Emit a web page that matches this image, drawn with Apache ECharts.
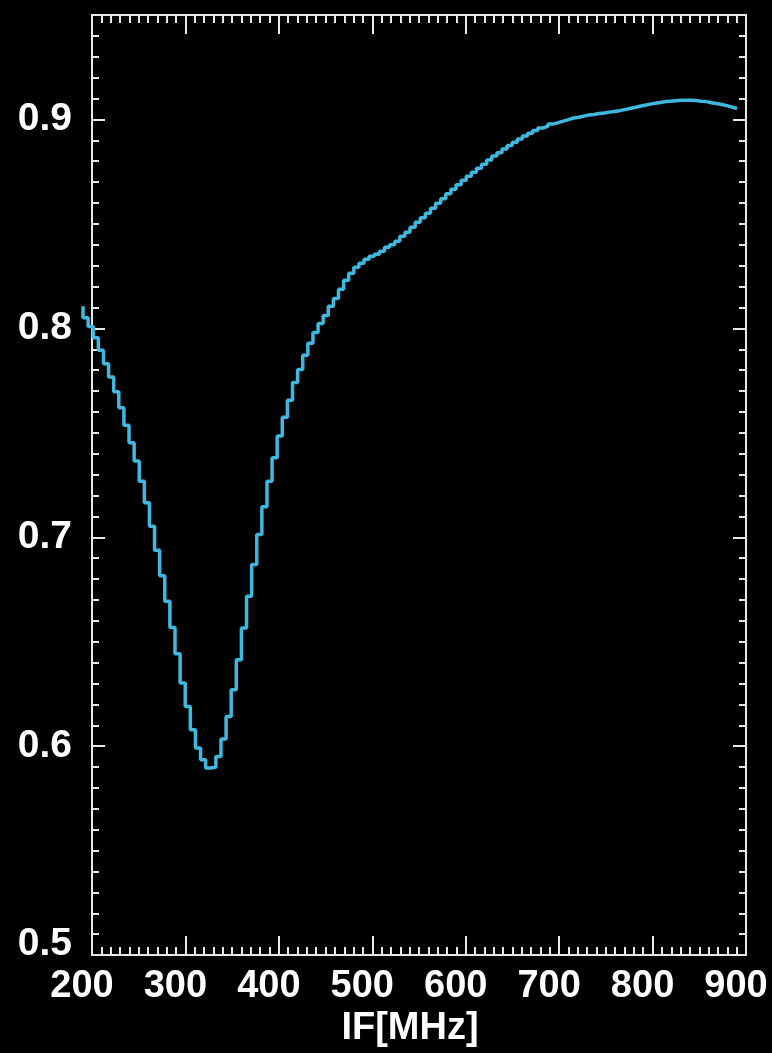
<!DOCTYPE html>
<html>
<head>
<meta charset="utf-8">
<title>IF response</title>
<script src="https://cdn.jsdelivr.net/npm/echarts@6/dist/echarts.min.js"></script>
<style>
  html, body { margin: 0; padding: 0; background: #000; }
  #chart { width: 772px; height: 1053px; }
</style>
</head>
<body>
<div id="chart"></div>
<script>
// Channel frequencies (MHz) of the stepped response, one per channel edge
const freqMHz = [
  190.40, 195.87, 201.34, 206.81, 212.28, 217.74, 223.21, 228.68, 234.15, 239.62,
  245.09, 250.56, 256.03, 261.49, 266.96, 272.43, 277.90, 283.37, 288.84, 294.31,
  299.78, 305.24, 310.71, 316.18, 321.65, 327.12, 332.59, 338.06, 343.53, 348.99,
  354.46, 359.93, 365.40, 370.87, 376.34, 381.81, 387.28, 392.74, 398.21, 403.68,
  409.15, 414.62, 420.09, 425.56, 431.03, 436.49, 441.96, 447.43, 452.90, 458.37,
  463.84, 469.31, 474.78, 480.24, 485.71, 491.18, 496.65, 502.12, 507.59, 513.06,
  518.53, 523.99, 529.46, 534.93, 540.40, 545.87, 551.34, 556.81, 562.28, 567.74,
  573.21, 578.68, 584.15, 589.62, 595.09, 600.56, 606.03, 611.49, 616.96, 622.43,
  627.90, 633.37, 638.84, 644.31, 649.78, 655.24, 660.71, 666.18, 671.65, 677.12,
  682.59, 688.06, 693.53, 698.99, 704.46, 709.93, 715.40, 720.87, 726.34, 731.81,
  737.28, 742.74, 748.21, 753.68, 759.15, 764.62, 770.09, 775.56, 781.03, 786.49,
  791.96, 797.43, 802.90, 808.37, 813.84, 819.31, 824.78, 830.24, 835.71, 841.18,
  846.65, 852.12, 857.59, 863.06, 868.53, 873.99, 879.46, 884.93, 890.40
];

// Response per channel
const response = [
  0.8114, 0.8060, 0.8018, 0.7965, 0.7905, 0.7841, 0.7778, 0.7708, 0.7632, 0.7549,
  0.7465, 0.7378, 0.7282, 0.7180, 0.7068, 0.6954, 0.6833, 0.6711, 0.6587, 0.6462,
  0.6322, 0.6211, 0.6100, 0.6013, 0.5957, 0.5918, 0.5922, 0.5973, 0.6056, 0.6163,
  0.6290, 0.6433, 0.6584, 0.6735, 0.6886, 0.7029, 0.7161, 0.7282, 0.7394, 0.7497,
  0.7586, 0.7667, 0.7752, 0.7814, 0.7881, 0.7938, 0.7990, 0.8033, 0.8071, 0.8114,
  0.8152, 0.8195, 0.8238, 0.8271, 0.8300, 0.8319, 0.8338, 0.8352, 0.8362, 0.8376,
  0.8395, 0.8407, 0.8424, 0.8448, 0.8467, 0.8490, 0.8514, 0.8536, 0.8557, 0.8581,
  0.8605, 0.8626, 0.8650, 0.8671, 0.8693, 0.8714, 0.8733, 0.8752, 0.8771, 0.8790,
  0.8810, 0.8829, 0.8845, 0.8862, 0.8879, 0.8895, 0.8910, 0.8924, 0.8938, 0.8950,
  0.8962, 0.8971, 0.8981, 0.8988, 0.8995, 0.9002, 0.9010, 0.9014, 0.9019, 0.9024,
  0.9027, 0.9031, 0.9034, 0.9038, 0.9041, 0.9045, 0.9050, 0.9055, 0.9060, 0.9066,
  0.9071, 0.9076, 0.9080, 0.9084, 0.9088, 0.9090, 0.9092, 0.9094, 0.9095, 0.9094,
  0.9093, 0.9090, 0.9088, 0.9083, 0.9079, 0.9074, 0.9069, 0.9062, 0.9055
];

// Axis ranges and tick labels
const xRange = [200, 900];
const xTickLabels = ['200', '300', '400', '500', '600', '700', '800', '900'];
const yRange = [0.5, 0.95];
const yTickLabels = ['0.5', '0.6', '0.7', '0.8', '0.9'];

const FONT = '"Liberation Sans", Arial, Helvetica, sans-serif';
const FRAME = '#e8e8e8';

// Plot box in pixels
const BOX = { left: 92, right: 26, top: 15, bottom: 92 };
const BOX_W = 772 - BOX.left - BOX.right;

// The trace starts a little below 200 MHz and runs past the left frame,
// so it is drawn on an unframed grid that extends further left at the same scale.
const traceMin = 190;
const pxPerMHz = BOX_W / (xRange[1] - xRange[0]);
const traceLeft = BOX.left - (xRange[0] - traceMin) * pxPerMHz;

const points = freqMHz.map((f, i) => [f, response[i]]);

const chart = echarts.init(document.getElementById('chart'), null, { renderer: 'canvas' });

const frameLine = { show: true, onZero: false, lineStyle: { color: FRAME, width: 2 } };

function xAxisDef(position, withLabels) {
  return {
    type: 'value',
    gridIndex: 0,
    position: position,
    min: xRange[0],
    max: xRange[1],
    interval: 100,
    axisLine: frameLine,
    splitLine: { show: false },
    axisTick: { show: true, inside: true, length: 19, lineStyle: { color: FRAME, width: 2 } },
    minorTick: { show: true, splitNumber: 10, length: 8, lineStyle: { color: FRAME, width: 2 } },
    axisLabel: withLabels ? {
      show: true,
      color: '#fff',
      fontFamily: FONT,
      fontWeight: 'bold',
      fontSize: 38,
      margin: 12,
      padding: [0, 20, 0, 0],
      formatter: v => {
        const s = String(Math.round(v));
        return xTickLabels.indexOf(s) >= 0 ? s : '';
      }
    } : { show: false },
    name: withLabels ? 'IF[MHz]' : '',
    nameLocation: 'middle',
    nameGap: 52,
    nameTextStyle: {
      color: '#fff', fontFamily: FONT, fontWeight: 'bold', fontSize: 38,
      padding: [0, 18, 0, 0]
    }
  };
}

function yAxisDef(position, interval, tickLen, withLabels, withLine) {
  return {
    type: 'value',
    gridIndex: 0,
    position: position,
    min: yRange[0],
    max: yRange[1],
    interval: interval,
    axisLine: withLine ? frameLine : { show: false },
    splitLine: { show: false },
    axisTick: { show: true, inside: true, length: tickLen, lineStyle: { color: FRAME, width: 2 } },
    axisLabel: withLabels ? {
      show: true,
      showMaxLabel: false,
      color: '#fff',
      fontFamily: FONT,
      fontWeight: 'bold',
      fontSize: 39,
      margin: 20,
      formatter: v => {
        const s = v.toFixed(1);
        if (yTickLabels.indexOf(s) < 0 || Math.abs(v - Number(s)) > 1e-6) return '';
        return s === yTickLabels[0] ? '{low|' + s + '}' : s;
      },
      rich: {
        low: {
          color: '#fff', fontFamily: FONT, fontWeight: 'bold', fontSize: 39,
          padding: [0, 0, 22, 0]
        }
      }
    } : { show: false }
  };
}

chart.setOption({
  backgroundColor: '#000',
  animation: false,
  grid: [
    { left: BOX.left, right: BOX.right, top: BOX.top, bottom: BOX.bottom, containLabel: false },
    { left: traceLeft, right: BOX.right, top: BOX.top, bottom: BOX.bottom, containLabel: false }
  ],
  xAxis: [
    xAxisDef('bottom', true),
    xAxisDef('top', false),
    {
      type: 'value', gridIndex: 1, min: traceMin, max: xRange[1], show: false
    }
  ],
  yAxis: [
    yAxisDef('left', 0.1, 13, true, true),
    yAxisDef('left', 0.01, 7, false, false),
    yAxisDef('right', 0.1, 13, false, true),
    yAxisDef('right', 0.01, 7, false, false),
    { type: 'value', gridIndex: 1, min: yRange[0], max: yRange[1], show: false }
  ],
  series: [{
    type: 'line',
    xAxisIndex: 2,
    yAxisIndex: 4,
    step: 'start',
    data: points,
    showSymbol: false,
    clip: false,
    z: 1,
    lineStyle: { color: '#3fb8e0', width: 3.5 }
  }]
});
</script>
</body>
</html>
